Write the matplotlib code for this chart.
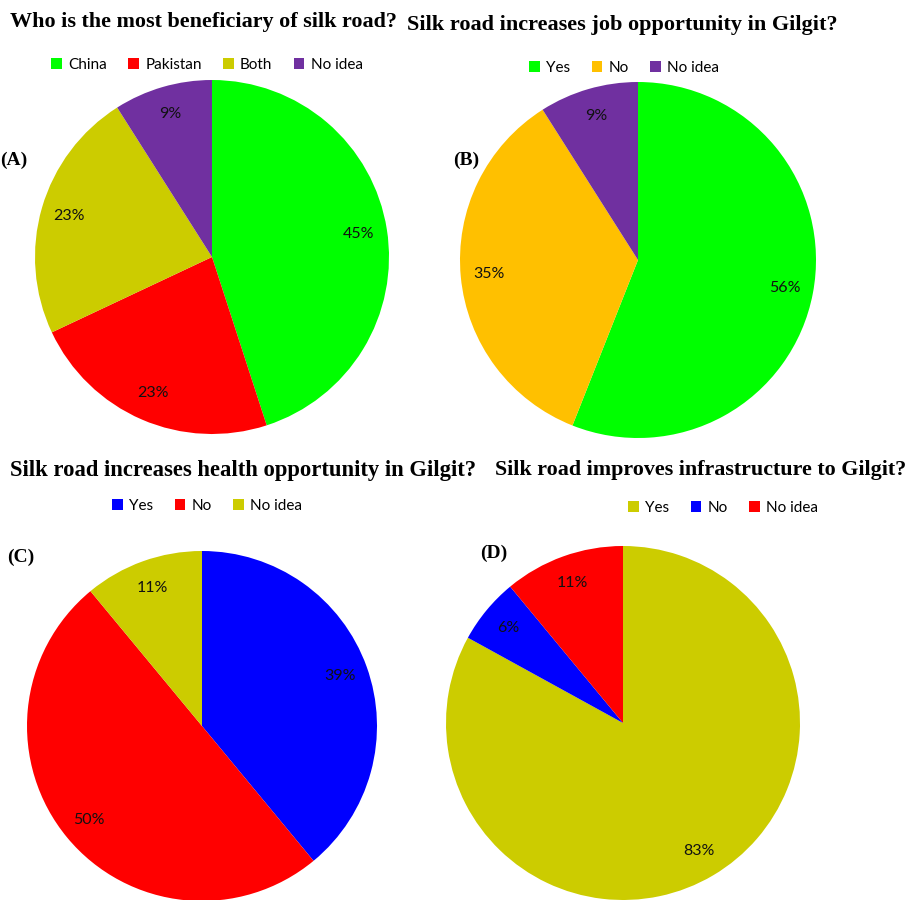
import matplotlib.pyplot as plt
from matplotlib.patches import Patch

W, H = 909, 900

# chart data
labels_a = ['China', 'Pakistan', 'Both', 'No idea']
values_a = [45, 23, 23, 9]
labels_b = ['Yes', 'No', 'No idea']
values_b = [56, 35, 9]
labels_c = ['Yes', 'No', 'No idea']
values_c = [39, 50, 11]
labels_d = ['Yes', 'No', 'No idea']
values_d = [83, 6, 11]

colors_a = ['#00FF00', '#FF0000', '#CCCC00', '#7030A0']
colors_b = ['#00FF00', '#FFC000', '#7030A0']
colors_c = ['#0000FF', '#FF0000', '#CCCC00']
colors_d = ['#CCCC00', '#0000FF', '#FF0000']

titles = [
    'Who is the most beneficiary of silk road?',
    'Silk road increases job opportunity in Gilgit?',
    'Silk road increases health opportunity in Gilgit?',
    'Silk road improves infrastructure to Gilgit?',
]

fig = plt.figure(figsize=(W / 100, H / 100), dpi=100)


def px_axes(cx, cy, r):
    # square axes centered at pixel (cx, cy) from top-left
    return fig.add_axes([(cx - r) / W, (H - cy - r) / H, 2 * r / W, 2 * r / H])


def draw_pie(cx, cy, r, values, labels, colors, tag, tag_xy, leg_xy, title, title_xy, title_size):
    ax = px_axes(cx, cy, r)
    wedges, _, autotexts = ax.pie(values, colors=colors, startangle=90, counterclock=False,
                                  autopct='%d%%', pctdistance=0.84, radius=1.0,
                                  textprops={'fontsize': 11.5, 'color': '#111111', 'family': 'Lato'})
    ax.set_xlim(-1, 1)
    ax.set_ylim(-1, 1)
    ax.axis('off')
    handles = [Patch(facecolor=c, edgecolor='none') for c in colors]
    fig.legend(handles, labels, ncol=len(labels), loc='center',
               bbox_to_anchor=(leg_xy[0] / W, 1 - leg_xy[1] / H), frameon=False,
               handlelength=0.7, handleheight=0.7, handletextpad=0.4, columnspacing=1.4,
               prop={'family': 'Lato', 'size': 11})
    fig.text(tag_xy[0] / W, 1 - tag_xy[1] / H, tag, family='Liberation Serif', weight='bold',
             fontsize=14, ha='left', va='center')
    fig.text(title_xy[0] / W, 1 - title_xy[1] / H, title, family='Liberation Serif', weight='bold',
             fontsize=title_size, ha='left', va='center')
    return ax


draw_pie(212, 257, 177, values_a, labels_a, colors_a, '(A)', (0, 160), (207, 65),
         titles[0], (10, 22), 15.9)
draw_pie(638, 260, 178, values_b, labels_b, colors_b, '(B)', (453, 160), (624, 68),
         titles[1], (407, 25), 16)
draw_pie(202, 726, 175, values_c, labels_c, colors_c, '(C)', (7, 557), (207, 506),
         titles[2], (10, 470), 16.3)
draw_pie(623, 723, 177, values_d, labels_d, colors_d, '(D)', (480, 553), (723, 508),
         titles[3], (495, 470), 15.8)

fig.savefig('out.png', dpi=100)
